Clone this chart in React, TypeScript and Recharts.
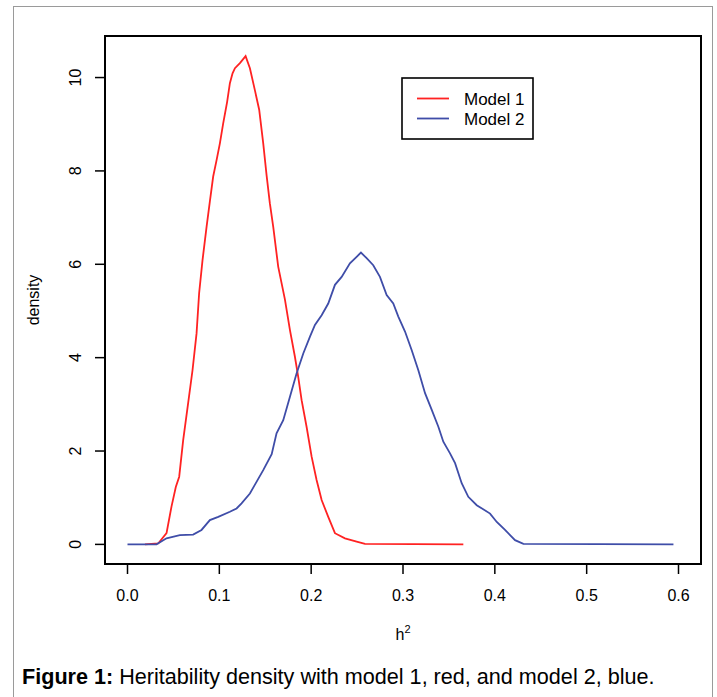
import { LineChart, Line, XAxis, YAxis, ReferenceArea, Legend } from "recharts";

const modelOneH = [
  0.019, 0.0334, 0.0425, 0.0479, 0.0526, 0.0563, 0.0606, 0.066, 0.0708, 0.0752, 0.078, 0.0817, 0.0861, 0.0897,
  0.0933, 0.097, 0.1006, 0.1042, 0.1085, 0.1115, 0.1144, 0.117, 0.1224, 0.1286, 0.1333, 0.1387, 0.1434, 0.1478,
  0.1515, 0.155, 0.1587, 0.1641, 0.1714, 0.1769, 0.1823, 0.1859, 0.1896, 0.195, 0.2005, 0.2059, 0.2114, 0.2186,
  0.2259, 0.2368, 0.2495, 0.2586, 0.3657,
];
const modelOneDensity = [
  0, 0.02, 0.24, 0.81, 1.23, 1.45, 2.23, 3.02, 3.73, 4.52, 5.38, 6.09, 6.8, 7.35,
  7.88, 8.23, 8.59, 9.02, 9.48, 9.88, 10.09, 10.2, 10.31, 10.46, 10.2, 9.73, 9.31, 8.59,
  7.9, 7.31, 6.8, 5.95, 5.25, 4.59, 4.02, 3.59, 3.09, 2.52, 1.88, 1.38, 0.95, 0.59,
  0.24, 0.13, 0.06, 0.01, 0,
];

const modelTwoH = [
  0, 0.0316, 0.0425, 0.057, 0.0715, 0.0806, 0.0897, 0.0988, 0.1115, 0.1188, 0.1242, 0.1333, 0.1405, 0.1478,
  0.157, 0.1623, 0.1696, 0.1769, 0.1841, 0.1914, 0.1987, 0.2041, 0.2114, 0.2186, 0.2259, 0.2332, 0.2422, 0.2495,
  0.2542, 0.2604, 0.2676, 0.2749, 0.2822, 0.2894, 0.2949, 0.3022, 0.3095, 0.3167, 0.324, 0.3313, 0.3385, 0.3439,
  0.3512, 0.3567, 0.3639, 0.3711, 0.3803, 0.3948, 0.4021, 0.4111, 0.422, 0.4311, 0.5945,
];
const modelTwoDensity = [
  0, 0, 0.13, 0.2, 0.21, 0.31, 0.52, 0.59, 0.7, 0.77, 0.88, 1.09, 1.34, 1.59,
  1.93, 2.38, 2.66, 3.16, 3.66, 4.09, 4.45, 4.7, 4.91, 5.16, 5.56, 5.73, 6.02, 6.16,
  6.25, 6.13, 5.98, 5.73, 5.34, 5.16, 4.88, 4.56, 4.16, 3.73, 3.24, 2.88, 2.52, 2.2,
  1.95, 1.74, 1.31, 1.02, 0.84, 0.66, 0.48, 0.31, 0.09, 0.01, 0,
];

const xTicks = [0, 0.1, 0.2, 0.3, 0.4, 0.5, 0.6];
const yTicks = [0, 2, 4, 6, 8, 10];
const xDomain = [-0.0245, 0.6245];
const yDomain = [-0.42, 10.89];

const RED = "#ff2222";
const BLUE = "#3f4da8";
const FONT = "'Liberation Sans', Arial, sans-serif";

const modelOne = modelOneH.map((h, i) => ({ h, density: modelOneDensity[i] }));
const modelTwo = modelTwoH.map((h, i) => ({ h, density: modelTwoDensity[i] }));

function YTick({ x, y, payload }: any) {
  const bx = x - 12;
  return (
    <text x={bx} y={y} transform={`rotate(-90 ${bx} ${y})`} textAnchor="middle" fontSize={16} fontFamily={FONT} fill="#000">
      {payload.value}
    </text>
  );
}

function LegendBox() {
  return (
    <svg width={134} height={63} style={{ display: "block" }}>
      <rect x={1} y={1} width={131} height={61} fill="#fff" stroke="#000" strokeWidth={1.6} />
      <line x1={16} x2={48} y1={21.5} y2={21.5} stroke={RED} strokeWidth={1.8} />
      <line x1={16} x2={48} y1={41.5} y2={41.5} stroke={BLUE} strokeWidth={1.8} />
      <text x={63} y={27.5} fontSize={17} fontFamily={FONT} fill="#000">Model 1</text>
      <text x={63} y={47.5} fontSize={17} fontFamily={FONT} fill="#000">Model 2</text>
    </svg>
  );
}

export default function App() {
  return (
    <div style={{ position: "absolute", left: 0, top: 0, width: 717, height: 697, background: "#fff", overflow: "hidden" }}>
      <div style={{ position: "absolute", left: 13, top: 6, width: 698, height: 720, border: "1.5px solid #9a9a9a" }} />
      <LineChart width={717} height={697} margin={{ top: 36, right: 16, bottom: 73, left: 45 }}>
        <XAxis
          type="number"
          dataKey="h"
          domain={xDomain}
          allowDataOverflow
          ticks={xTicks}
          tickFormatter={(v: number) => v.toFixed(1)}
          height={60}
          tickSize={10}
          tickMargin={16}
          axisLine={false}
          tickLine={{ stroke: "#000", strokeWidth: 1.5 }}
          tick={{ fill: "#000", fontSize: 16, fontFamily: FONT }}
          label={{
            content: ({ viewBox }: any) => (
              <text x={viewBox.x + viewBox.width / 2} y={640} textAnchor="middle" fontSize={16} fontFamily={FONT} fill="#000">
                <tspan>h</tspan>
                <tspan dy={-7} fontSize={11}>2</tspan>
              </text>
            ),
          }}
        />
        <YAxis
          type="number"
          domain={yDomain}
          allowDataOverflow
          ticks={yTicks}
          width={60}
          tickSize={10}
          axisLine={false}
          tickLine={{ stroke: "#000", strokeWidth: 1.5 }}
          tick={<YTick />}
          label={{
            content: () => (
              <text x={39} y={300} transform="rotate(-90 39 300)" textAnchor="middle" fontSize={16} fontFamily={FONT} fill="#000">
                density
              </text>
            ),
          }}
        />
        <ReferenceArea x1={xDomain[0]} x2={xDomain[1]} y1={yDomain[0]} y2={yDomain[1]} fill="none" stroke="#000" strokeWidth={2} />
        <Line data={modelOne} dataKey="density" type="linear" stroke={RED} strokeWidth={1.8} dot={false} isAnimationActive={false} name="Model 1" />
        <Line data={modelTwo} dataKey="density" type="linear" stroke={BLUE} strokeWidth={1.8} dot={false} isAnimationActive={false} name="Model 2" />
        <Legend
          layout="vertical"
          align="center"
          verticalAlign="middle"
          content={() => <LegendBox />}
          wrapperStyle={{ position: "absolute", left: 401, top: 77, width: 134, height: 63 }}
        />
      </LineChart>
      <div
        style={{
          position: "absolute",
          left: 22,
          top: 666,
          fontFamily: FONT,
          fontSize: 21.6,
          lineHeight: "22px",
          color: "#000",
          whiteSpace: "nowrap",
        }}
      >
        <b>Figure 1:</b> Heritability density with model 1, red, and model 2, blue.
      </div>
    </div>
  );
}
